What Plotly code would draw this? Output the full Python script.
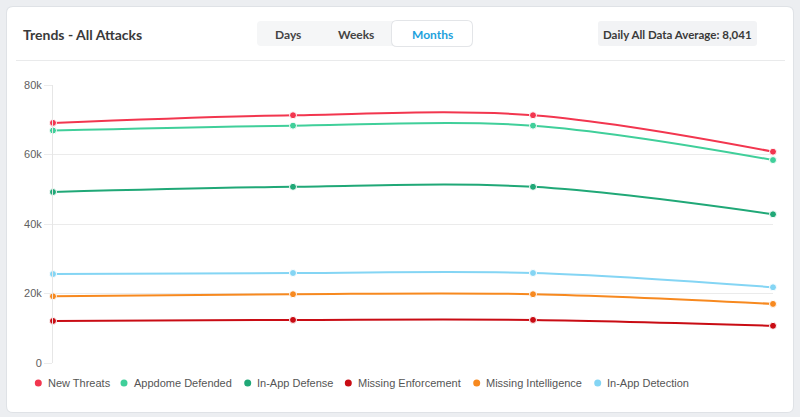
import plotly.graph_objects as go

# ---------------- data ----------------
periods = ["Month 1", "Month 2", "Month 3", "Month 4"]
series_names = ["New Threats", "Appdome Defended", "In-App Defense",
                "Missing Enforcement", "Missing Intelligence", "In-App Detection"]
new_threats = [69100, 71300, 71300, 60800]
appdome_defended = [66900, 68300, 68300, 58400]
in_app_defense = [49200, 50700, 50700, 42800]
missing_enforcement = [12100, 12400, 12400, 10700]
missing_intelligence = [19200, 19800, 19800, 17000]
in_app_detection = [25600, 25900, 25900, 21800]
y_tick_vals = [0, 20000, 40000, 60000, 80000]
y_tick_text = ["0", "20k", "40k", "60k", "80k"]
title_text = "Trends - All Attacks"
toggle_labels = ["Days", "Weeks", "Months"]
badge_text = "Daily All Data Average: 8,041"

series_values = [new_threats, appdome_defended, in_app_defense,
                 missing_enforcement, missing_intelligence, in_app_detection]
colors = ["#f2364f", "#40cf9a", "#20a877", "#c90c14", "#f7891f", "#84d5f4"]

# ---------------- geometry helpers (pixels -> paper) ----------------
WIDTH, HEIGHT = 800, 417
L, R, T, B = 53, 27, 85, 54
PW = WIDTH - L - R
PH = HEIGHT - T - B


def fx(x):
    return (x - L) / PW


def fy(y):
    return (HEIGHT - B - y) / PH


def rounded_rect(x0, y0, x1, y1, r):
    pts = [
        f"M {fx(x0 + r)},{fy(y0)}",
        f"L {fx(x1 - r)},{fy(y0)}",
        f"Q {fx(x1)},{fy(y0)} {fx(x1)},{fy(y0 + r)}",
        f"L {fx(x1)},{fy(y1 - r)}",
        f"Q {fx(x1)},{fy(y1)} {fx(x1 - r)},{fy(y1)}",
        f"L {fx(x0 + r)},{fy(y1)}",
        f"Q {fx(x0)},{fy(y1)} {fx(x0)},{fy(y1 - r)}",
        f"L {fx(x0)},{fy(y0 + r)}",
        f"Q {fx(x0)},{fy(y0)} {fx(x0 + r)},{fy(y0)}",
        "Z",
    ]
    return " ".join(pts)


fig = go.Figure()

for name, vals, col in zip(series_names, series_values, colors):
    fig.add_trace(go.Scatter(
        x=periods, y=vals, name=name, mode="lines+markers",
        line=dict(color=col, width=2, shape="spline", smoothing=1),
        marker=dict(size=7, color=col, line=dict(color="white", width=1)),
        cliponaxis=False, showlegend=False,
    ))

shapes = []
# card shadow + card
shapes.append(dict(type="path", xref="paper", yref="paper", layer="below",
                   path=rounded_rect(6, 6, 794, 413, 7),
                   fillcolor="#dfe2e6", line=dict(width=0)))
shapes.append(dict(type="path", xref="paper", yref="paper", layer="below",
                   path=rounded_rect(7, 7, 793, 412, 6),
                   fillcolor="white", line=dict(width=0)))
# separator
shapes.append(dict(type="line", xref="paper", yref="paper", layer="below",
                   x0=fx(16), x1=fx(785), y0=fy(60.5), y1=fy(60.5),
                   line=dict(color="#e9eaeb", width=1)))
# toggle group
shapes.append(dict(type="path", xref="paper", yref="paper", layer="below",
                   path=rounded_rect(257, 21, 472, 46, 4),
                   fillcolor="#f5f6f7", line=dict(width=0)))
shapes.append(dict(type="path", xref="paper", yref="paper", layer="below",
                   path=rounded_rect(391, 20, 473, 47, 6),
                   fillcolor="#e3e5e8", line=dict(width=0)))
shapes.append(dict(type="path", xref="paper", yref="paper", layer="below",
                   path=rounded_rect(392, 21, 472, 46, 5),
                   fillcolor="white", line=dict(width=0)))
# badge
shapes.append(dict(type="path", xref="paper", yref="paper", layer="below",
                   path=rounded_rect(598, 21, 757, 46, 3),
                   fillcolor="#f2f3f5", line=dict(width=0)))

annotations = []
hdr_font = "Lato, 'Open Sans', sans-serif"
annotations.append(dict(text=title_text, x=fx(21), y=fy(34), xref="paper", yref="paper",
                        xanchor="left", yanchor="middle", showarrow=False,
                        font=dict(family=hdr_font, size=14, color="#3a3a3a", weight=700)))
for lab, cx, col in zip(toggle_labels, [288, 356, 432], ["#444444", "#444444", "#1ea1dc"]):
    annotations.append(dict(text=lab, x=fx(cx), y=fy(34), xref="paper", yref="paper",
                            xanchor="center", yanchor="middle", showarrow=False,
                            font=dict(family=hdr_font, size=12, color=col, weight=700)))
annotations.append(dict(text=badge_text, x=fx(677.5), y=fy(34), xref="paper", yref="paper",
                        xanchor="center", yanchor="middle", showarrow=False,
                        font=dict(family=hdr_font, size=11.5, color="#3a3a3a", weight=700)))

# custom legend (dot + label)
legend_dot_x = [38.3, 124, 247.7, 348.3, 476.7, 597.7]
legend_y = 383
for name, col, mx in zip(series_names, colors, legend_dot_x):
    shapes.append(dict(type="circle", xref="paper", yref="paper",
                       xsizemode="pixel", ysizemode="pixel",
                       xanchor=fx(mx), yanchor=fy(legend_y),
                       x0=-3.5, x1=3.5, y0=-3.5, y1=3.5,
                       fillcolor=col, line=dict(width=0)))
    annotations.append(dict(text=name, x=fx(mx + 7.5), y=fy(legend_y), xref="paper", yref="paper",
                            xanchor="left", yanchor="middle", showarrow=False,
                            font=dict(family="'Liberation Sans', Arial, Helvetica, sans-serif",
                                      size=11, color="#555555")))

fig.update_layout(
    width=WIDTH, height=HEIGHT,
    margin=dict(l=L, r=R, t=T, b=B, pad=0),
    paper_bgcolor="#eceef1", plot_bgcolor="white",
    showlegend=False,
    shapes=shapes, annotations=annotations,
    hovermode="x",
    font=dict(family="'Liberation Sans', Arial, sans-serif", size=11, color="#606060"),
)
fig.update_xaxes(type="category", range=[0, 3], showgrid=False, zeroline=False,
                 showticklabels=False, ticks="", showline=False, fixedrange=True)
fig.update_yaxes(range=[0, 80000], tickvals=y_tick_vals, ticktext=y_tick_text,
                 showgrid=True, gridcolor="#ebebeb", gridwidth=1, zeroline=False,
                 ticks="outside", ticklen=8, tickcolor="#ebebeb", tickwidth=1,
                 showline=True, linecolor="#e6e6e6", linewidth=1,
                 tickfont=dict(size=11, color="#606060"), fixedrange=True)

fig.write_html(
    "out.html",
    config={"displayModeBar": False},
    post_script="document.body.style.margin='0';document.body.style.overflow='hidden';",
)
